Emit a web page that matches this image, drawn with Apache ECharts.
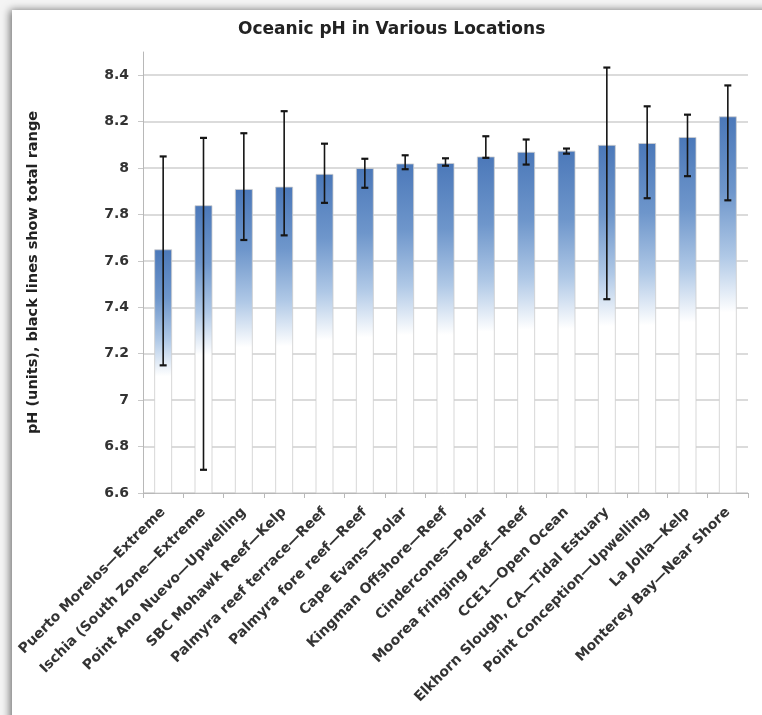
<!DOCTYPE html>
<html><head><meta charset="utf-8">
<script src="https://cdn.jsdelivr.net/npm/echarts@6/dist/echarts.min.js"></script>
<style>html,body{margin:0;padding:0;background:#fff}#c{width:762px;height:715px}</style>
</head><body><div id="c"></div>
<script>
var categories = ['Puerto Morelos—Extreme','Ischia (South Zone—Extreme','Point Ano Nuevo—Upwelling','SBC Mohawk Reef—Kelp','Palmyra reef terrace—Reef','Palmyra fore reef—Reef','Cape Evans—Polar','Kingman Offshore—Reef','Cindercones—Polar','Moorea fringing reef—Reef','CCE1—Open Ocean','Elkhorn Slough, CA—Tidal Estuary','Point Conception—Upwelling','La Jolla—Kelp','Monterey Bay—Near Shore'];
var meanPH = [7.65, 7.84, 7.91, 7.92, 7.975, 8.00, 8.02, 8.022, 8.05, 8.07, 8.075, 8.10, 8.108, 8.134, 8.223];
var lowPH  = [7.15, 6.70, 7.69, 7.71, 7.85, 7.915, 7.995, 8.01, 8.044, 8.015, 8.062, 7.435, 7.87, 7.965, 7.861];
var highPH = [8.05, 8.13, 8.15, 8.245, 8.105, 8.04, 8.055, 8.042, 8.137, 8.123, 8.084, 8.433, 8.266, 8.23, 8.356];

var errData = categories.map(function(c, i){ return [i, lowPH[i], highPH[i]]; });
var FONT = 'DejaVu Sans';
var chart = echarts.init(document.getElementById('c'), null, {renderer:'canvas'});
chart.setOption({
  animation:false,
  backgroundColor:'#f4f4f4',
  graphic:[{type:'rect', z:-10, silent:true, shape:{x:12,y:10,width:760,height:720},
    style:{fill:'#ffffff', shadowColor:'rgba(0,0,0,0.55)', shadowBlur:8, shadowOffsetX:-2, shadowOffsetY:0}}],
  title:{text:'Oceanic pH in Various Locations', left:233, top:16,
    textStyle:{fontFamily:FONT, fontSize:17, fontWeight:'bold', color:'#222'}},
  grid:{left:143, right:14, top:52, bottom:222},
  xAxis:{type:'category', data:categories,
    axisLine:{lineStyle:{color:'#b8b8b8'}},
    axisTick:{show:true, length:5, lineStyle:{color:'#b8b8b8'}},
    axisLabel:{rotate:45, interval:0, margin:17, fontFamily:FONT, fontSize:14, fontWeight:'bold', color:'#333'}},
  yAxis:{type:'value', min:6.6, max:8.5, interval:0.2,
    name:'pH (units), black lines show total range', nameLocation:'middle', nameRotate:90, nameGap:102,
    nameTextStyle:{fontFamily:FONT, fontSize:14.5, fontWeight:'bold', color:'#222'},
    axisLine:{show:true, lineStyle:{color:'#b8b8b8'}},
    axisTick:{show:true, length:5, lineStyle:{color:'#c8c8c8'}},
    axisLabel:{margin:14, showMaxLabel:false, fontFamily:FONT, fontSize:14, fontWeight:'bold', color:'#333',
      formatter:function(v){ return Math.abs(v-8.5)<1e-6 ? '' : String(parseFloat(v.toFixed(1))); }},
    splitLine:{show:true, showMaxLine:false, lineStyle:{color:'#cfcfcf', width:1.5}}},
  series:[
    {type:'bar', data:meanPH, barWidth:18, z:2,
      itemStyle:{borderColor:'rgba(205,205,205,0.8)', borderWidth:1,
        color:new echarts.graphic.LinearGradient(0,0,0,1,[
          {offset:0, color:'rgb(75,120,185)'},
          {offset:0.2, color:'rgb(110,150,203)'},
          {offset:0.37, color:'rgb(175,200,230)'},
          {offset:0.52, color:'rgb(255,255,255)'},
          {offset:1, color:'rgb(255,255,255)'}])}},
    {type:'custom', data:errData, z:5,
      renderItem:function(params, api){
        var x = api.value(0);
        var lo = api.coord([x, api.value(1)]);
        var hi = api.coord([x, api.value(2)]);
        var cw = 3.5;
        var st = {stroke:'#151515', lineWidth:1.6};
        return {type:'group', children:[
          {type:'line', shape:{x1:lo[0], y1:lo[1], x2:hi[0], y2:hi[1]}, style:st},
          {type:'line', shape:{x1:lo[0]-cw, y1:lo[1], x2:lo[0]+cw, y2:lo[1]}, style:{stroke:'#151515', lineWidth:2.2}},
          {type:'line', shape:{x1:hi[0]-cw, y1:hi[1], x2:hi[0]+cw, y2:hi[1]}, style:{stroke:'#151515', lineWidth:2.2}}
        ]};
      }}
  ]
});
</script></body></html>
